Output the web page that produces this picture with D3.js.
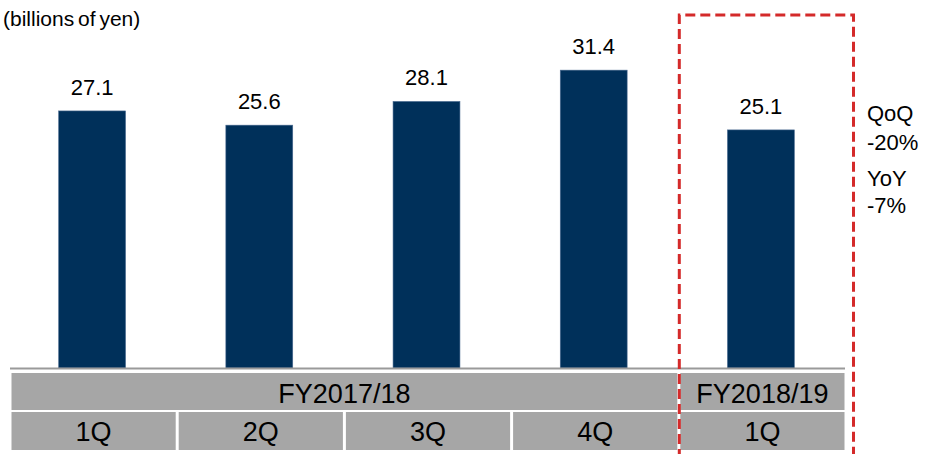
<!DOCTYPE html>
<html>
  <head>
    <meta charset="utf-8">
    <title>Quarterly results</title>
    <script src="https://d3js.org/d3.v7.min.js"></script>
    <style>
      body { margin: 0; background: #fff; }
      svg { font-family: "Liberation Sans", Arial, sans-serif; }
    </style>
  </head>
  <body>
    <div id="chart"></div>
    <script>
      // data
      var quarters = ["1Q", "2Q", "3Q", "4Q", "1Q"];
      var values = [27.1, 25.6, 28.1, 31.4, 25.1];
      var fiscalYears = ["FY2017/18", "FY2018/19"];
      var yearSpan = [4, 1]; // number of quarters per fiscal year
      var notes = ["QoQ", "-20%", "YoY", "-7%"];

      var width = 926, height = 454;
      var keys = d3.range(values.length);

      var svg = d3.select("#chart")
        .append("svg")
        .attr("width", width)
        .attr("height", height);

      // scales
      var x = d3.scaleBand()
        .domain(keys)
        .range([8.5, 844.5])
        .paddingInner(0.6)
        .paddingOuter(0.3);
      var y = d3.scaleLinear()
        .domain([0, 35])
        .range([368, 36]);

      // unit label
      svg.append("text")
        .attr("x", 3)
        .attr("y", 26)
        .style("font-size", "21px")
        .style("word-spacing", "-2px")
        .text("(billions of yen)");

      // bars
      svg.selectAll(".bar")
        .data(values)
        .enter().append("rect")
          .attr("class", "bar")
          .attr("x", function(d, i) { return x(i); })
          .attr("width", x.bandwidth())
          .attr("y", function(d) { return y(d); })
          .attr("height", function(d) { return y(0) - y(d); })
          .style("fill", "#00305a")
          .style("stroke", "#4a6a90")
          .style("stroke-width", 0.6);

      // value labels
      svg.selectAll(".val")
        .data(values)
        .enter().append("text")
          .attr("class", "val")
          .attr("x", function(d, i) { return x(i) + x.bandwidth() / 2; })
          .attr("y", function(d) { return y(d) - 16; })
          .attr("text-anchor", "middle")
          .style("font-size", "22px")
          .text(function(d) { return d.toFixed(1); });

      // baseline
      svg.append("line")
        .attr("x1", 10)
        .attr("x2", 845)
        .attr("y1", y(0) + 0.5)
        .attr("y2", y(0) + 0.5)
        .style("stroke", "#9a9a9a")
        .style("stroke-width", 2);

      // category table
      var step = x.step();
      var cellLeft = function(i) { return x(i) + x.bandwidth() / 2 - step / 2 + 3; };
      var rowTop = [373, 412], rowH = [37, 38];

      var starts = [];
      yearSpan.reduce(function(acc, n) { starts.push(acc); return acc + n; }, 0);

      svg.selectAll(".fy")
        .data(fiscalYears)
        .enter().append("g")
          .attr("class", "fy")
          .each(function(d, i) {
            var g = d3.select(this);
            var x0 = cellLeft(starts[i]);
            var w = step * yearSpan[i] - 3;
            g.append("rect")
              .attr("x", x0).attr("y", rowTop[0])
              .attr("width", w).attr("height", rowH[0])
              .style("fill", "#a6a6a6");
            g.append("text")
              .attr("x", x0 + w / 2).attr("y", rowTop[0] + 29.5)
              .attr("text-anchor", "middle")
              .style("font-size", "27px")
              .text(d);
          });

      svg.selectAll(".q")
        .data(quarters)
        .enter().append("g")
          .attr("class", "q")
          .each(function(d, i) {
            var g = d3.select(this);
            var x0 = cellLeft(i);
            var w = step - 3;
            g.append("rect")
              .attr("x", x0).attr("y", rowTop[1])
              .attr("width", w).attr("height", rowH[1])
              .style("fill", "#a6a6a6");
            g.append("text")
              .attr("x", x0 + w / 2).attr("y", rowTop[1] + 28.5)
              .attr("text-anchor", "middle")
              .style("font-size", "27px")
              .text(d);
          });

      // highlight box around latest quarter
      var last = values.length - 1;
      var bx0 = cellLeft(last) - 1, bx1 = cellLeft(last) + step + 6;
      svg.append("path")
        .attr("d", "M" + bx0 + "," + (height + 5) + "V15H" + bx1 + "V" + (height + 5))
        .style("fill", "none")
        .style("stroke", "#d42a2a")
        .style("stroke-width", 3)
        .style("stroke-dasharray", "10,5");

      // change notes
      var noteY = [121, 150, 186, 213];
      svg.selectAll(".note")
        .data(notes)
        .enter().append("text")
          .attr("class", "note")
          .attr("x", 867)
          .attr("y", function(d, i) { return noteY[i]; })
          .style("font-size", "22px")
          .text(function(d) { return d; });
    </script>
  </body>
</html>
